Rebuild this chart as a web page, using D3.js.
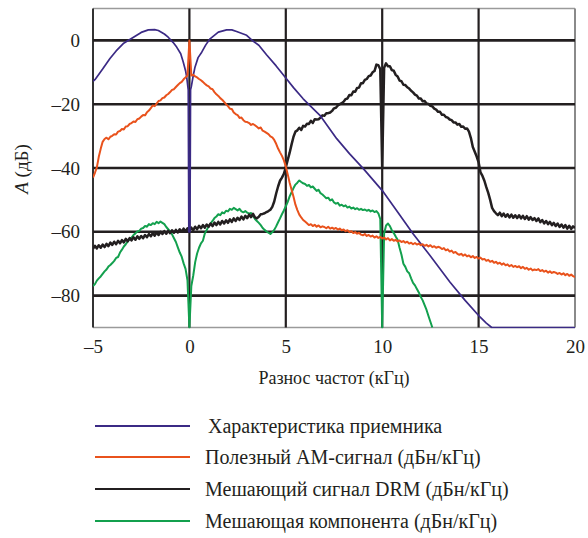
<!DOCTYPE html>
<html>
<head>
<meta charset="utf-8">
<script src="https://cdn.jsdelivr.net/npm/d3@7"></script>
<style>
  body { margin: 0; background: #fff; }
  svg { display: block; }
</style>
</head>
<body>
<svg id="chart" width="588" height="538"></svg>
<script>
// Axis ticks
const xTicks = [-5, 0, 5, 10, 15, 20];
const yTicks = [0, -20, -40, -60, -80];
const xGridTicks = [0, 5, 10, 15];

// Legend entries
const seriesNames = [
  "Характеристика приемника",
  "Полезный АМ-сигнал (дБн/кГц)",
  "Мешающий сигнал DRM (дБн/кГц)",
  "Мешающая компонента (дБн/кГц)"
];
const seriesColors = ["#3b2a85", "#e9521c", "#231f20", "#13a04e"];

// Receiver response: frequency (kHz) and level (dB)
const receiverFreq = [-5.0, -4.9, -4.5, -4.12, -3.8, -3.43, -2.9, -2.5, -2.13, -1.8, -1.61, -1.3, -1.1,
  -0.85, -0.66, -0.45, -0.32, -0.2, -0.14, -0.06, -0.03, 0.03, 0.06, 0.1, 0.2, 0.29, 0.45, 0.64, 0.85, 1.07,
  1.5, 1.93, 2.2, 2.45, 2.97, 3.3, 3.6, 4.0, 4.5, 4.96, 5.4, 5.9, 6.77, 7.64, 8.3, 9.02, 10.06,
  10.8, 11.6, 12.48, 13.52, 14.3, 15.07, 15.4, 15.68, 20.0];
const receiverDb = [-12.8, -12.3, -9.0, -5.7, -3.3, -1.0, 1.0, 2.5, 3.3, 3.4, 3.1, 2.0, 1.0,
  -0.6, -2.1, -4.2, -6.8, -9.5, -11.5, -15.5, -60.0, -60.0, -15.5, -14.5, -11.0, -8.4, -5.4, -3.7, -1.4, 0.5,
  2.6, 3.3, 3.3, 2.8, 1.6, -0.2, -1.5, -4.5, -8.0, -11.5, -14.8, -18.3, -23.5, -30.8, -35.5, -40.2, -47.5,
  -53.8, -60.6, -67.4, -75.8, -81.5, -86.7, -88.6, -90.0, -90.0];

// Measured spectra, sampled every 0.1 kHz starting at -5 kHz
const sampleStart = -5;
const sampleStep = 0.1;

const amSignalDb = [
  -43.0, -41.5, -39.8, -36.5, -34.0, -31.8, -30.9, -30.5, -31.0, -30.2,
  -29.9, -29.4, -29.5, -28.6, -28.4, -27.8, -27.9, -27.0, -26.9, -26.2,
  -25.9, -25.4, -25.6, -24.7, -24.5, -23.9, -23.4, -23.5, -22.5, -22.0,
  -21.2, -20.4, -20.6, -19.8, -19.0, -18.8, -18.1, -17.9, -17.2, -16.8,
  -16.2, -15.5, -15.3, -14.6, -14.0, -13.4, -13.0, -12.2, -11.6, -11.0,
  0.0, -11.0, -10.8, -11.3, -11.6, -12.1, -12.5, -13.0, -13.6, -14.1,
  -14.4, -15.1, -15.3, -16.2, -16.9, -17.4, -18.1, -18.6, -19.3, -20.0,
  -20.6, -21.4, -21.5, -22.6, -23.1, -23.4, -24.3, -24.2, -25.0, -25.5,
  -25.6, -25.9, -26.5, -26.2, -26.6, -27.1, -27.6, -27.3, -28.3, -28.6,
  -29.0, -29.4, -30.1, -30.4, -31.2, -32.4, -33.9, -35.1, -36.2, -37.6,
  -39.5, -42.0, -44.6, -46.8, -49.0, -51.5, -53.2, -54.6, -55.5, -56.3,
  -56.8, -57.3, -57.9, -57.6, -58.2, -57.8, -58.4, -58.0, -58.6, -58.3,
  -58.5, -58.9, -58.4, -59.0, -58.7, -59.1, -58.8, -59.3, -59.0, -59.5,
  -59.3, -59.8, -59.5, -60.1, -59.8, -60.4, -60.1, -60.6, -60.3, -60.9,
  -61.1, -60.7, -61.3, -61.0, -61.5, -61.2, -61.8, -61.4, -61.9, -61.6,
  -62.1, -61.8, -62.4, -62.0, -62.7, -62.3, -62.8, -62.5, -63.0, -62.7,
  -63.2, -62.9, -63.4, -63.1, -63.7, -63.4, -63.9, -63.5, -64.0, -63.7,
  -64.2, -63.9, -64.4, -64.1, -64.6, -64.2, -64.8, -64.5, -65.0, -64.7,
  -64.9, -65.4, -65.1, -65.8, -65.5, -66.2, -65.9, -66.6, -66.3, -66.9,
  -67.2, -66.9, -67.5, -67.1, -67.7, -67.4, -68.0, -67.6, -68.2, -67.9,
  -68.4, -68.1, -68.7, -68.5, -69.1, -68.8, -69.4, -69.1, -69.7, -69.4,
  -70.0, -69.7, -70.3, -69.9, -70.5, -70.2, -70.8, -70.4, -71.0, -70.7,
  -71.1, -70.8, -71.4, -71.0, -71.6, -71.3, -71.9, -71.5, -72.1, -71.8,
  -72.0, -71.7, -72.3, -72.0, -72.5, -72.2, -72.8, -72.4, -72.9, -72.6,
  -72.8, -73.2, -72.9, -73.4, -73.0, -73.6, -73.2, -73.8, -73.4, -73.9,
  -74.2
];

const drmSignalDb = [
  -65.3, -64.4, -65.2, -64.2, -65.0, -64.0, -64.8, -63.8, -64.5, -63.4,
  -64.1, -63.1, -63.9, -62.8, -63.6, -62.6, -63.3, -62.2, -63.0, -62.0,
  -62.7, -61.7, -62.5, -61.4, -62.2, -61.3, -62.0, -61.0, -61.7, -60.7,
  -61.4, -60.4, -61.2, -60.2, -61.0, -60.0, -60.7, -59.8, -60.6, -59.7,
  -60.4, -59.5, -60.3, -59.4, -60.2, -59.2, -60.0, -59.0, -59.9, -58.9,
  -59.8, -58.7, -59.5, -58.4, -59.2, -58.1, -58.9, -57.9, -58.7, -57.7,
  -58.4, -57.4, -58.2, -57.1, -57.9, -56.9, -57.7, -56.6, -57.4, -56.4,
  -57.2, -56.1, -56.9, -55.8, -56.6, -55.6, -56.3, -55.2, -56.1, -55.0,
  -55.7, -54.6, -55.4, -54.4, -55.5, -55.8, -55.3, -54.5, -54.4, -54.2,
  -53.8, -53.5, -53.1, -52.2, -50.5, -48.0, -45.8, -44.0, -43.0, -41.8,
  -39.8, -37.5, -35.2, -32.6, -30.2, -28.6, -28.2, -27.4, -28.1, -26.8,
  -27.0, -26.1, -26.2, -25.2, -25.9, -24.7, -24.8, -24.7, -24.2, -23.5,
  -23.6, -22.8, -22.8, -22.6, -22.1, -21.3, -21.1, -20.4, -20.0, -19.7,
  -19.2, -18.4, -18.2, -17.1, -17.2, -16.0, -16.1, -14.9, -14.8, -13.4,
  -13.4, -12.4, -12.1, -11.2, -11.0, -10.0, -9.6, -7.6, -7.8, -9.0,
  -40.0, -8.6, -7.2, -8.1, -8.1, -9.3, -9.5, -10.8, -11.3, -12.6,
  -12.8, -13.9, -14.0, -14.7, -15.1, -15.8, -16.3, -17.0, -17.3, -18.2,
  -18.2, -19.1, -19.0, -19.8, -19.9, -20.5, -20.7, -21.4, -21.7, -22.4,
  -22.4, -23.3, -23.3, -24.0, -24.2, -24.8, -25.0, -25.7, -25.7, -26.4,
  -26.2, -27.1, -27.0, -27.7, -27.6, -28.6, -30.6, -33.4, -34.9, -36.4,
  -38.2, -41.4, -42.5, -44.0, -46.0, -47.8, -50.0, -52.5, -53.5, -54.2,
  -54.8, -54.0, -55.1, -54.3, -55.3, -54.5, -55.5, -54.6, -55.6, -54.8,
  -55.7, -54.8, -55.8, -55.0, -56.0, -55.1, -56.2, -55.4, -56.3, -55.7,
  -56.6, -55.8, -57.0, -56.3, -57.4, -56.6, -57.6, -56.9, -57.9, -57.2,
  -58.2, -57.4, -58.5, -57.7, -58.7, -57.9, -59.0, -58.1, -59.1, -58.3,
  -58.8
];

const interferenceDb = [
  -77.0, -76.4, -75.3, -74.6, -74.0, -73.2, -72.4, -71.8, -70.9, -70.4,
  -69.8, -69.1, -68.2, -67.9, -66.5, -65.6, -64.6, -63.9, -63.0, -62.2,
  -61.8, -61.0, -60.5, -59.9, -59.7, -59.0, -58.8, -58.2, -58.4, -57.6,
  -57.9, -57.3, -57.6, -56.9, -57.3, -56.8, -57.2, -57.6, -58.5, -59.2,
  -59.9, -60.8, -62.0, -63.2, -64.9, -66.5, -67.8, -69.9, -71.6, -75.2,
  -90.0, -77.0, -73.7, -69.5, -66.8, -65.0, -63.6, -62.8, -60.5, -59.4,
  -58.3, -57.4, -56.6, -55.7, -55.2, -54.5, -54.8, -53.9, -54.2, -53.4,
  -53.6, -52.8, -53.1, -52.5, -52.9, -53.3, -52.8, -53.6, -53.9, -53.5,
  -54.0, -54.3, -54.1, -55.0, -56.0, -56.6, -57.2, -57.9, -58.8, -59.4,
  -59.9, -60.3, -60.7, -60.1, -59.4, -58.3, -57.0, -55.8, -54.5, -53.3,
  -52.0, -50.6, -48.9, -47.6, -46.3, -45.2, -44.6, -43.9, -44.4, -44.8,
  -45.0, -45.6, -45.3, -46.1, -45.8, -46.5, -47.2, -46.8, -47.9, -48.3,
  -48.9, -49.5, -49.3, -50.2, -49.8, -50.8, -51.2, -50.9, -51.8, -51.5,
  -52.0, -51.7, -52.4, -52.1, -52.7, -52.4, -52.9, -52.6, -53.1, -52.8,
  -53.2, -53.0, -53.4, -53.1, -53.6, -53.3, -53.8, -53.5, -54.2, -56.0,
  -90.0, -60.5, -58.0, -57.4, -58.2, -59.5, -60.4, -61.5, -62.5, -65.0,
  -67.2, -70.0, -71.0, -72.4, -73.0, -74.6, -76.0, -76.8, -77.9, -79.0,
  -80.4, -81.5, -83.0, -84.5, -86.4, -88.2, -90.0
];

// ---- layout ----
const svg = d3.select("#chart");
const plot = { left: 93, right: 575, top: 8.5, bottom: 327.5 };
const serif = "'Liberation Serif', 'Times New Roman', serif";
const ink = "#231f20";

const x = d3.scaleLinear().domain([-5, 20]).range([plot.left, plot.right]);
const y = d3.scaleLinear().domain([-90, 10]).range([plot.bottom, plot.top]);

const dash = v => String(v).replace("-", "\u2013");

// clip for the curves
svg.append("defs").append("clipPath").attr("id", "plotClip")
  .append("rect")
  .attr("x", plot.left).attr("y", plot.top - 1)
  .attr("width", plot.right - plot.left).attr("height", plot.bottom - plot.top + 2);

// frame: light top/right/bottom, dark left
const frame = svg.append("g");
frame.append("line").attr("x1", plot.left).attr("x2", plot.right)
  .attr("y1", plot.top).attr("y2", plot.top).attr("stroke", "#9a9a9a").attr("stroke-width", 1.5);
frame.append("line").attr("x1", plot.right).attr("x2", plot.right)
  .attr("y1", plot.top).attr("y2", plot.bottom).attr("stroke", "#8a8a8a").attr("stroke-width", 2);
frame.append("line").attr("x1", plot.left).attr("x2", plot.right)
  .attr("y1", plot.bottom).attr("y2", plot.bottom).attr("stroke", "#9a9a9a").attr("stroke-width", 1.5);
frame.append("line").attr("x1", plot.left).attr("x2", plot.left)
  .attr("y1", plot.top).attr("y2", plot.bottom).attr("stroke", "#333").attr("stroke-width", 2);

// grid
const grid = svg.append("g");
grid.selectAll("line.h").data(yTicks).join("line").attr("class", "h")
  .attr("x1", plot.left).attr("x2", plot.right)
  .attr("y1", d => y(d)).attr("y2", d => y(d))
  .attr("stroke", ink).attr("stroke-width", 2.6);
grid.selectAll("line.v").data(xGridTicks).join("line").attr("class", "v")
  .attr("x1", d => x(d)).attr("x2", d => x(d))
  .attr("y1", plot.top).attr("y2", plot.bottom)
  .attr("stroke", ink).attr("stroke-width", 2.2);

// axes (labels only)
const yAxis = svg.append("g").attr("transform", `translate(${plot.left},0)`)
  .call(d3.axisLeft(y).tickValues(yTicks).tickSize(0).tickPadding(13).tickFormat(dash));
const xAxis = svg.append("g").attr("transform", `translate(0,${plot.bottom})`)
  .call(d3.axisBottom(x).tickValues(xTicks).tickSize(0).tickPadding(12).tickFormat(dash));
[yAxis, xAxis].forEach(g => {
  g.select(".domain").remove();
  g.selectAll("text")
    .style("font-family", serif).style("font-size", "19px").style("fill", ink);
});

// axis titles
const yTitle = svg.append("text")
  .attr("transform", "translate(28,169) rotate(-90)")
  .attr("text-anchor", "middle")
  .style("font-family", serif).style("font-size", "19px").style("fill", ink);
yTitle.append("tspan").style("font-style", "italic").text("A");
yTitle.append("tspan").text(" (дБ)");

svg.append("text").attr("x", 334).attr("y", 384)
  .attr("text-anchor", "middle")
  .style("font-family", serif).style("font-size", "18px").style("fill", ink)
  .text("Разнос частот (кГц)");

// curves
const line = d3.line().x(d => x(d[0])).y(d => y(d[1]));
const sampled = arr => arr.map((v, i) => [sampleStart + i * sampleStep, v]);

const curves = svg.append("g").attr("clip-path", "url(#plotClip)")
  .attr("fill", "none").attr("stroke-linejoin", "round");

curves.append("path").datum(sampled(interferenceDb)).attr("d", line)
  .attr("stroke", seriesColors[3]).attr("stroke-width", 2);
curves.append("path").datum(sampled(drmSignalDb)).attr("d", line)
  .attr("stroke", seriesColors[2]).attr("stroke-width", 2.5);
curves.append("path").datum(receiverFreq.map((f, i) => [f, receiverDb[i]])).attr("d", line)
  .attr("stroke", seriesColors[0]).attr("stroke-width", 1.7);
curves.append("path").datum(sampled(amSignalDb)).attr("d", line)
  .attr("stroke", seriesColors[1]).attr("stroke-width", 2);

// legend
const legendY = [426, 457, 489, 521];
const legend = svg.append("g");
seriesNames.forEach((name, i) => {
  legend.append("line").attr("x1", 95).attr("x2", 190)
    .attr("y1", legendY[i]).attr("y2", legendY[i])
    .attr("stroke", seriesColors[i]).attr("stroke-width", 2);
  legend.append("text").attr("x", i === 0 ? 208 : 205).attr("y", legendY[i])
    .attr("dy", "0.35em")
    .style("font-family", serif).style("font-size", "20px").style("fill", ink)
    .text(name);
});
</script>
</body>
</html>
